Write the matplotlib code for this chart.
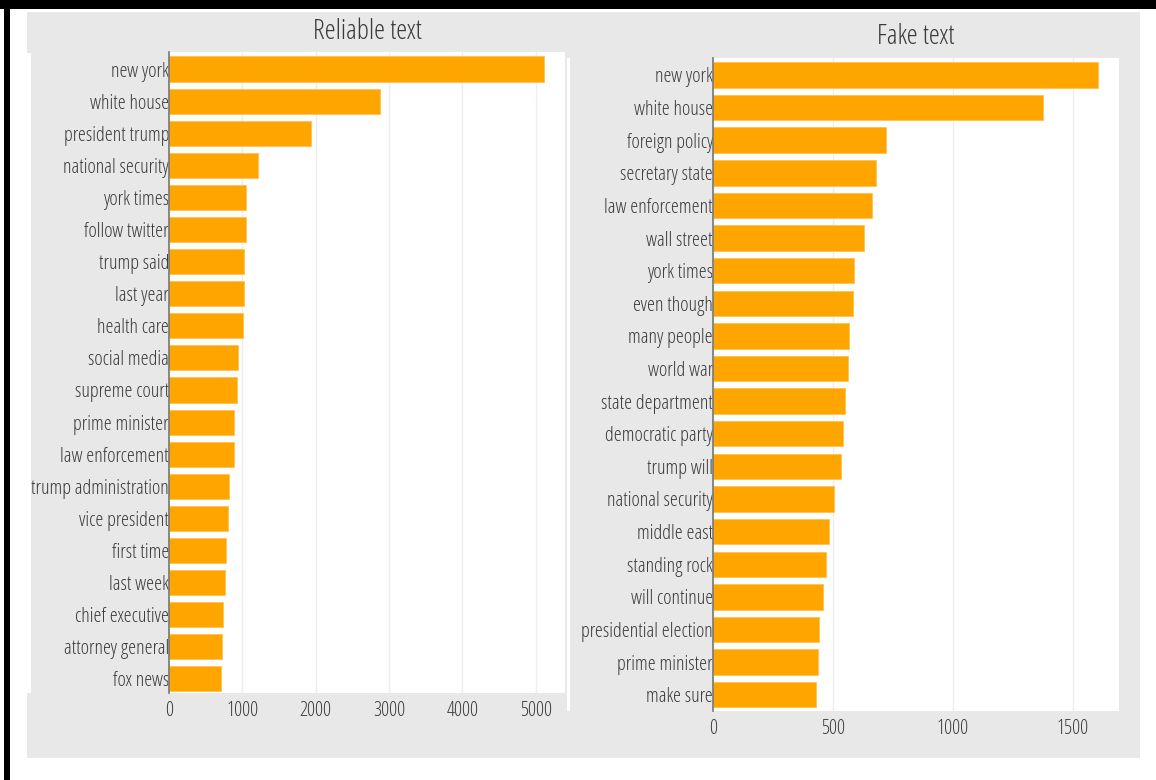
import matplotlib.pyplot as plt
from matplotlib.patches import Rectangle

# data
reliable_terms = ['new york', 'white house', 'president trump', 'national security',
                  'york times', 'follow twitter', 'trump said', 'last year', 'health care',
                  'social media', 'supreme court', 'prime minister', 'law enforcement',
                  'trump administration', 'vice president', 'first time', 'last week',
                  'chief executive', 'attorney general', 'fox news']
reliable_counts = [5120, 2880, 1940, 1215, 1050, 1045, 1028, 1019, 1010,
                   946, 928, 892, 887, 818, 805, 778, 764, 737, 723, 709]

fake_terms = ['new york', 'white house', 'foreign policy', 'secretary state',
              'law enforcement', 'wall street', 'york times', 'even though', 'many people',
              'world war', 'state department', 'democratic party', 'trump will',
              'national security', 'middle east', 'standing rock', 'will continue',
              'presidential election', 'prime minister', 'make sure']
fake_counts = [1607, 1377, 722, 681, 663, 628, 588, 583, 568, 565, 551, 543, 536,
               503, 486, 470, 457, 443, 440, 428]

W, H = 1156, 780
plt.rcParams['font.family'] = ['Open Sans', 'DejaVu Sans']
plt.rcParams['font.stretch'] = 'condensed'
plt.rcParams['font.weight'] = 500

fig = plt.figure(figsize=(W / 100, H / 100), dpi=100)
fig.patch.set_facecolor('white')


def box(x0, y0, x1, y1, color):
    # rectangle in pixel coords (origin top left), kept behind the axes
    fig.patches.append(Rectangle((x0 / W, 1 - y1 / H), (x1 - x0) / W, (y1 - y0) / H,
                                 transform=fig.transFigure, facecolor=color,
                                 edgecolor='none', zorder=-5))


# black frame bits
box(0, 0, W, 9, 'black')
box(4, 0, 10, H, 'black')
# grey panels
box(27, 12, 567, 758, '#e8e8e8')
box(567, 12, 1140, 758, '#e8e8e8')
# thin white strips on the left of each panel
box(27, 53, 31, 693, 'white')
box(567, 58, 570, 711, 'white')


def panel(rect, terms, counts, xmax, ticks, ylim, title, title_xy):
    ax = fig.add_axes(rect)
    ax.set_facecolor('white')
    pos = list(range(len(terms)))
    ax.barh(pos, counts, height=0.78, color='#ffa500', edgecolor='#ffc24d',
            linewidth=0.6, zorder=3)
    ax.set_yticks(pos)
    ax.set_yticklabels(terms)
    ax.set_ylim(*ylim)
    ax.set_xlim(0, xmax)
    ax.set_xticks(ticks)
    ax.set_xticklabels([str(t) for t in ticks])
    ax.grid(axis='x', color='#eeeeee', linewidth=1, zorder=0)
    ax.set_axisbelow(True)
    for s in ['top', 'right', 'bottom']:
        ax.spines[s].set_visible(False)
    ax.spines['left'].set_color('#777777')
    ax.spines['left'].set_linewidth(1.2)
    ax.spines['left'].set_zorder(4)
    ax.tick_params(axis='y', length=0, pad=0, labelsize=14.5, labelcolor='#3a3a3a')
    ax.tick_params(axis='x', length=0, pad=6, labelsize=14.5, labelcolor='#3a3a3a')
    fig.text(title_xy[0] / W, 1 - title_xy[1] / H, title, ha='center', va='center',
             fontsize=20, color='#3a3a3a')
    return ax


panel([169 / W, 1 - 693 / H, (565 - 169) / W, (693 - 52) / H],
      reliable_terms, reliable_counts, 5400, [0, 1000, 2000, 3000, 4000, 5000],
      (19.44, -0.53), 'Reliable text', (367, 32))
panel([713 / W, 1 - 711 / H, (1119 - 713) / W, (711 - 58) / H],
      fake_terms, fake_counts, 1694, [0, 500, 1000, 1500],
      (19.5, -0.52), 'Fake text', (916, 37))

fig.savefig('out.png', dpi=100)
